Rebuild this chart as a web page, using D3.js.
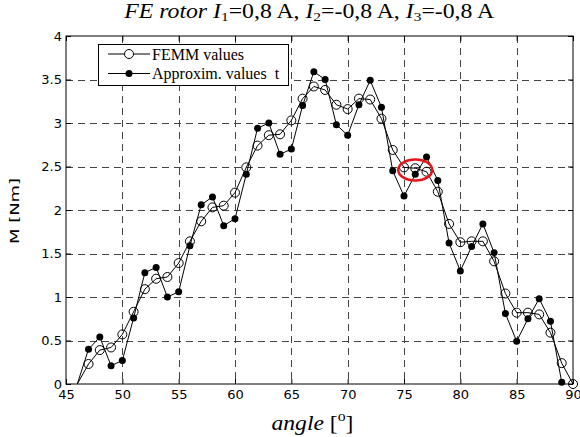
<!DOCTYPE html>
<html><head><meta charset="utf-8">
<script src="https://cdn.jsdelivr.net/npm/d3@7"></script>
<style>body{margin:0;background:#fff}svg{display:block}</style>
</head><body>
<svg id="c" width="580" height="437"></svg>
<script>
const angles = [46,47,48,49,50,51,52,53,54,55,56,57,58,59,60,61,62,63,64,65,66,67,68,69,70,71,72,73,74,75,76,77,78,79,80,81,82,83,84,85,86,87,88,89,90];
const femmValues = [0,0.23,0.39,0.42,0.57,0.83,1.09,1.21,1.23,1.39,1.64,1.87,2.03,2.05,2.20,2.49,2.74,2.86,2.87,3.03,3.28,3.42,3.38,3.21,3.16,3.28,3.27,3.05,2.69,2.49,2.48,2.44,2.21,1.84,1.63,1.64,1.64,1.41,1.04,0.82,0.82,0.80,0.59,0.24,0];
const approxValues = [0,0.40,0.54,0.21,0.27,0.76,1.28,1.34,1.00,1.06,1.59,2.06,2.15,1.82,1.90,2.41,2.94,3.00,2.64,2.70,3.20,3.59,3.50,2.98,2.86,3.21,3.49,3.18,2.45,2.16,2.41,2.61,2.34,1.62,1.30,1.58,1.84,1.51,0.81,0.49,0.75,0.98,0.72,0.02];
const xTicks = [45,50,55,60,65,70,75,80,85,90];
const yTicks = [0,0.5,1,1.5,2,2.5,3,3.5,4];
const yTickLabels = ["0","0.5","1","1.5","2","2.5","3","3.5","4"];
const legendLabels = ["FEMM values", "Approxim. values  t"];
const highlight = {angle: 76, value: 2.46};

const svg = d3.select("#c");
const m = {l: 66, r: 573, t: 36, b: 384};
const x = d3.scaleLinear().domain([45, 90]).range([m.l, m.r]);
const y = d3.scaleLinear().domain([0, 4]).range([m.b, m.t]);
const tickFont = "'DejaVu Sans', sans-serif";
const serif = "'Liberation Serif', 'Times New Roman', serif";

svg.append("rect").attr("width", 580).attr("height", 437).attr("fill", "#fff");

// grid
const grid = svg.append("g").attr("stroke", "#444").attr("stroke-width", 1).attr("stroke-dasharray", "7,5");
grid.selectAll("line.v").data(xTicks.filter(d => d > 45 && d < 90)).join("line")
  .attr("x1", d => Math.round(x(d)) + 0.5).attr("x2", d => Math.round(x(d)) + 0.5)
  .attr("y1", m.t).attr("y2", m.b);
grid.selectAll("line.h").data(yTicks.filter(d => d > 0 && d < 4)).join("line")
  .attr("y1", d => Math.round(y(d)) + 0.5).attr("y2", d => Math.round(y(d)) + 0.5)
  .attr("x1", m.l).attr("x2", m.r);

// axes
function styleAxis(g) {
  g.select(".domain").remove();
  g.selectAll(".tick line").attr("stroke", "#000");
  g.selectAll(".tick text").attr("fill", "#000").style("font-family", tickFont).style("font-size", "13px");
}
svg.append("g").attr("transform", `translate(0,${m.b})`)
  .call(d3.axisBottom(x).tickValues(xTicks).tickSize(-5).tickPadding(6).tickFormat(d3.format("d")))
  .call(styleAxis);
svg.append("g").attr("transform", `translate(0,${m.t})`)
  .call(d3.axisTop(x).tickValues(xTicks).tickSize(-5).tickFormat(""))
  .call(styleAxis);
svg.append("g").attr("transform", `translate(${m.l},0)`)
  .call(d3.axisLeft(y).tickValues(yTicks).tickSize(-5).tickPadding(4).tickFormat((d, i) => yTickLabels[i]))
  .call(styleAxis);
svg.append("g").attr("transform", `translate(${m.r},0)`)
  .call(d3.axisRight(y).tickValues(yTicks).tickSize(-5).tickFormat(""))
  .call(styleAxis);

svg.append("rect").attr("x", m.l).attr("y", m.t).attr("width", m.r - m.l).attr("height", m.b - m.t)
  .attr("fill", "none").attr("stroke", "#000").attr("stroke-width", 1);

// series
const femm = angles.map((a, i) => ({a, v: femmValues[i]}));
const approx = approxValues.map((v, i) => ({a: angles[i], v}));
const line = d3.line().x(d => x(d.a)).y(d => y(d.v));

svg.append("path").datum(femm).attr("d", line).attr("fill", "none").attr("stroke", "#000").attr("stroke-width", 1);
svg.append("g").selectAll("circle").data(femm.slice(1)).join("circle")
  .attr("cx", d => x(d.a)).attr("cy", d => y(d.v)).attr("r", 4.5)
  .attr("fill", "none").attr("stroke", "#000").attr("stroke-width", 1);

svg.append("path").datum(approx).attr("d", line).attr("fill", "none").attr("stroke", "#000").attr("stroke-width", 1);
svg.append("g").selectAll("circle").data(approx.slice(1)).join("circle")
  .attr("cx", d => x(d.a)).attr("cy", d => y(d.v)).attr("r", 3.5)
  .attr("fill", "#000");

// highlight ellipse
svg.append("ellipse").attr("cx", x(highlight.angle)).attr("cy", y(highlight.value))
  .attr("rx", 17).attr("ry", 10.5).attr("fill", "none").attr("stroke", "#e8141c").attr("stroke-width", 2.5);

// legend
const lg = svg.append("g");
lg.append("rect").attr("x", 98.5).attr("y", 44.5).attr("width", 190).attr("height", 41)
  .attr("fill", "#fff").attr("stroke", "#000").attr("stroke-width", 1);
const rows = [54, 73.5];
legendLabels.forEach((lab, i) => {
  const ry = rows[i];
  lg.append("line").attr("x1", 108).attr("x2", 150).attr("y1", ry).attr("y2", ry).attr("stroke", "#000");
  if (i === 0) lg.append("circle").attr("cx", 129).attr("cy", ry).attr("r", 4.5).attr("fill", "#fff").attr("stroke", "#000");
  else lg.append("circle").attr("cx", 129).attr("cy", ry).attr("r", 3.5).attr("fill", "#000");
  lg.append("text").attr("x", 152).attr("y", ry + 5.5).attr("font-family", serif).attr("font-size", 16)
    .attr("xml:space", "preserve").style("white-space", "pre").text(lab);
});

function fitX(sel, left, width) {
  const bb = sel.node().getBBox();
  const k = width / bb.width;
  sel.attr("transform", `translate(${left},0) scale(${k},1) translate(${-bb.x},0)`);
}

// title
const title = svg.append("text").attr("x", 0).attr("y", 18.5).attr("font-family", serif).attr("font-size", 20);
title.append("tspan").attr("font-style", "italic").text("FE rotor I");
title.append("tspan").attr("font-size", 13).attr("dy", 3).text("1");
title.append("tspan").attr("dy", -3).text("=0,8 A, ");
title.append("tspan").attr("font-style", "italic").text("I");
title.append("tspan").attr("font-size", 13).attr("dy", 3).text("2");
title.append("tspan").attr("dy", -3).text("=-0,8 A, ");
title.append("tspan").attr("font-style", "italic").text("I");
title.append("tspan").attr("font-size", 13).attr("dy", 3).text("3");
title.append("tspan").attr("dy", -3).text("=-0,8 A");
fitX(title, 123, 372);

// x label
const xl = svg.append("text").attr("x", 0).attr("y", 430).attr("font-family", serif).attr("font-size", 21);
xl.append("tspan").attr("font-style", "italic").text("angle");
xl.append("tspan").text(" [");
xl.append("tspan").attr("font-size", 14).attr("dy", -9).text("o");
xl.append("tspan").attr("dy", 9).text("]");
fitX(xl, 271.5, 82);

// y label
svg.append("text").attr("transform", "translate(19,211) rotate(-90)").attr("text-anchor", "middle")
  .attr("font-family", tickFont).attr("font-size", 13)
  .attr("textLength", 66).attr("lengthAdjust", "spacingAndGlyphs").text("M [Nm]");
</script>
</body></html>
